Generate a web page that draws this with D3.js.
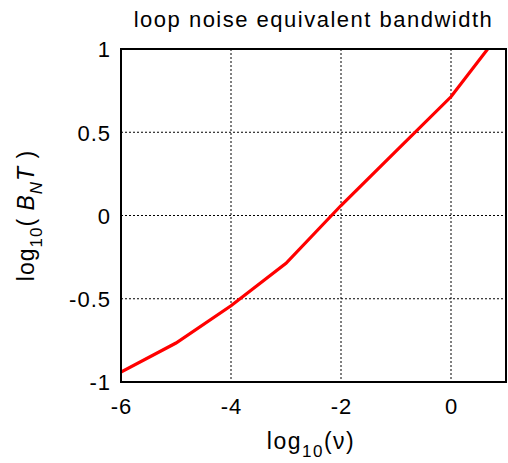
<!DOCTYPE html>
<html><head><meta charset="utf-8">
<script src="https://cdn.jsdelivr.net/npm/d3@7/dist/d3.min.js"></script>
<style>body{margin:0;background:#fff}svg{display:block}text{font-family:"Liberation Sans",Arial,sans-serif;fill:#000}</style>
</head><body>
<script>
const xValues = [-6, -5, -4, -3, -2, -1, 0, 1];
const yValues = [-0.94, -0.766, -0.542, -0.287, 0.06, 0.386, 0.713, 1.143];
const xTicks = [-6, -4, -2, 0];
const yTicks = [-1, -0.5, 0, 0.5, 1];
const xTickLabels = ["-6", "-4", "-2", "0"];
const yTickLabels = ["-1", "-0.5", "0", "0.5", "1"];

const W = 508, H = 463;
const m = {left: 121, right: 506, top: 49, bottom: 382};
const svg = d3.select("body").append("svg").attr("width", W).attr("height", H);
const x = d3.scaleLinear().domain([-6, 1]).range([m.left, m.right]);
const y = d3.scaleLinear().domain([-1, 1]).range([m.bottom, m.top]);

svg.append("clipPath").attr("id", "clip").append("rect")
  .attr("x", m.left).attr("y", m.top).attr("width", m.right - m.left).attr("height", m.bottom - m.top);

// grid
const g = svg.append("g");
g.selectAll(".gx").data(xTicks.filter(d => d > -6)).enter().append("line")
  .attr("x1", d => x(d)).attr("x2", d => x(d)).attr("y1", m.top).attr("y2", m.bottom)
  .attr("stroke", "#000").attr("stroke-width", 1).attr("stroke-dasharray", "2,2");
g.selectAll(".gy").data(yTicks.filter(d => d > -1 && d < 1)).enter().append("line")
  .attr("y1", d => y(d)).attr("y2", d => y(d)).attr("x1", m.left).attr("x2", m.right)
  .attr("stroke", "#000").attr("stroke-width", 1).attr("stroke-dasharray", "2,2");

// line
const line = d3.line().x((d, i) => x(xValues[i])).y(d => y(d));
svg.append("path").datum(yValues).attr("d", line).attr("fill", "none")
  .attr("stroke", "#ff0000").attr("stroke-width", 3.2).attr("clip-path", "url(#clip)");

// axes
const xAxis = d3.axisBottom(x).tickValues(xTicks).tickFormat((d, i) => xTickLabels[i]).tickSize(0).tickPadding(0);
const yAxis = d3.axisLeft(y).tickValues(yTicks).tickFormat((d, i) => yTickLabels[i]).tickSize(0).tickPadding(10);
const gx = svg.append("g").attr("transform", `translate(0,${m.bottom})`).call(xAxis);
const gy = svg.append("g").attr("transform", `translate(${m.left},0)`).call(yAxis);
[gx, gy].forEach(a => { a.select(".domain").remove(); a.selectAll("text").attr("font-size", 22).attr("letter-spacing", 1).attr("font-family", "Liberation Sans, Arial, sans-serif"); });
gx.selectAll("text").attr("dy", null).attr("y", 32);
gy.selectAll("text").attr("dy", "0.36em");

// border
svg.append("rect").attr("x", m.left).attr("y", m.top).attr("width", m.right - m.left).attr("height", m.bottom - m.top)
  .attr("fill", "none").attr("stroke", "#000").attr("stroke-width", 2);

// title
svg.append("text").attr("x", (m.left + m.right) / 2).attr("y", 27).attr("text-anchor", "middle")
  .attr("font-size", 22).attr("letter-spacing", 1.5).text("loop noise equivalent bandwidth");

// x label
const xl = svg.append("text").attr("x", 311).attr("y", 449).attr("text-anchor", "middle").attr("font-size", 23).attr("letter-spacing", 1.5);
xl.append("tspan").text("log");
xl.append("tspan").attr("dy", 8).attr("font-size", 17).text("10");
xl.append("tspan").attr("dy", -8).text("(ν)");

// y label
const yl = svg.append("text").attr("transform", `translate(34,${(m.top + m.bottom) / 2}) rotate(-90)`)
  .attr("text-anchor", "middle").attr("font-size", 23).attr("letter-spacing", 1);
yl.append("tspan").text("log");
yl.append("tspan").attr("dy", 8).attr("font-size", 17).text("10");
yl.append("tspan").attr("dy", -8).text("( ");
yl.append("tspan").attr("font-style", "italic").text("B");
yl.append("tspan").attr("dy", 8).attr("font-size", 17).attr("font-style", "italic").text("N");
yl.append("tspan").attr("dy", -8).attr("font-style", "italic").text("T");
yl.append("tspan").text(" )");
</script>
</body></html>
